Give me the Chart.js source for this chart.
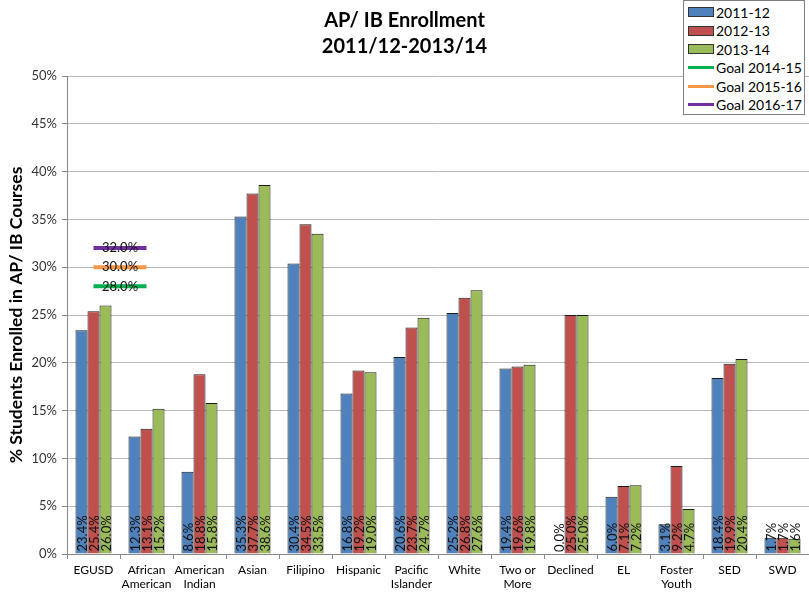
<!DOCTYPE html>
<html>
<head>
<meta charset="utf-8">
<script src="https://cdn.jsdelivr.net/npm/chart.js@4.4.1/dist/chart.umd.min.js"></script>
<style>
  html, body { margin: 0; padding: 0; background: #fff; }
  #wrap { position: relative; width: 809px; height: 592px; }
  #legend {
    position: absolute; left: 683px; top: 0px; width: 122px; height: 115px;
    border: 1px solid #7f7f7f; background: #fff; box-sizing: border-box;
    font-family: Lato, "Open Sans", sans-serif; font-size: 14px; color: #000;
    padding: 2px 0 0 4px;
  }
  .row { display: flex; align-items: center; height: 18.5px; }
  .sw { width: 24px; height: 8px; border: 1px solid #333; margin-right: 2px; }
  .ln { width: 26px; height: 3px; margin-right: 2px; }
</style>
</head>
<body>
<div id="wrap">
  <canvas id="chart" width="809" height="592"></canvas>
  <div id="legend"></div>
</div>
<script>
// categories
const groups = [
  "EGUSD", ["African", "American"], ["American", "Indian"], "Asian", "Filipino",
  "Hispanic", ["Pacific", "Islander"], "White", ["Two or", "More"], "Declined",
  "EL", ["Foster", "Youth"], "SED", "SWD"
];

// series values (%)
const y2011 = [23.4, 12.3, 8.6, 35.3, 30.4, 16.8, 20.6, 25.2, 19.4, 0.0, 6.0, 3.1, 18.4, 1.7];
const y2012 = [25.4, 13.1, 18.8, 37.7, 34.5, 19.2, 23.7, 26.8, 19.6, 25.0, 7.1, 9.2, 19.9, 1.7];
const y2013 = [26.0, 15.2, 15.8, 38.6, 33.5, 19.0, 24.7, 27.6, 19.8, 25.0, 7.2, 4.7, 20.4, 1.6];

const barNames = ["2011-12", "2012-13", "2013-14"];
const barColors = ["#4f81bd", "#c0504d", "#9bbb59"];

// goals (short markers spanning EGUSD -> African American in category units)
const goalNames = ["Goal 2014-15", "Goal 2015-16", "Goal 2016-17"];
const goalValues = [28.0, 30.0, 32.0];
const goalColors = ["#00b050", "#f79646", "#7030a0"];
const goalSpan = [0, 1];

const yTicks = [0, 5, 10, 15, 20, 25, 30, 35, 40, 45, 50];

const FONT = "Lato, 'Open Sans', sans-serif";

const barSeries = [y2011, y2012, y2013];
const datasets = barSeries.map((vals, i) => ({
  label: barNames[i],
  data: vals,
  backgroundColor: barColors[i],
  borderColor: "#1a1a1a",
  borderWidth: 1,
  categoryPercentage: 0.68,
  barPercentage: 1.0
}));

// goal markers, placed through the chart's scales
const goalLines = {
  id: "goalLines",
  afterDatasetsDraw(chart) {
    const { ctx, scales } = chart;
    const x0 = scales.x.getPixelForValue(goalSpan[0]);
    const x1 = scales.x.getPixelForValue(goalSpan[1]);
    ctx.save();
    ctx.lineWidth = 4;
    ctx.font = "13px " + FONT;
    ctx.fillStyle = "#111";
    ctx.textAlign = "center";
    ctx.textBaseline = "middle";
    goalValues.forEach((v, i) => {
      const y = scales.y.getPixelForValue(v);
      ctx.strokeStyle = goalColors[i];
      ctx.beginPath();
      ctx.moveTo(x0, y);
      ctx.lineTo(x1, y);
      ctx.stroke();
      ctx.fillText(v.toFixed(1) + "%", (x0 + x1) / 2, y);
    });
    ctx.restore();
  }
};

// value labels: vertical text inside bars from the base
const valueLabels = {
  id: "valueLabels",
  afterDatasetsDraw(chart) {
    const ctx = chart.ctx;
    ctx.save();
    ctx.font = "13px " + FONT;
    ctx.fillStyle = "#111";
    ctx.textAlign = "left";
    ctx.textBaseline = "middle";
    chart.data.datasets.forEach((ds, di) => {
      chart.getDatasetMeta(di).data.forEach((el, k) => {
        ctx.save();
        ctx.translate(el.x + 1, el.base - 2);
        ctx.rotate(-Math.PI / 2);
        ctx.fillText(ds.data[k].toFixed(1) + "%", 0, 0);
        ctx.restore();
      });
    });
    ctx.restore();
  }
};

new Chart(document.getElementById("chart"), {
  type: "bar",
  data: { labels: groups, datasets: datasets },
  plugins: [valueLabels, goalLines],
  options: {
    responsive: false,
    animation: false,
    events: [],
    layout: { padding: { left: 0, right: 0, top: 0, bottom: 0 } },
    plugins: {
      legend: { display: false },
      tooltip: { enabled: false },
      title: {
        display: true,
        text: ["AP/ IB Enrollment", "2011/12-2013/14"],
        color: "#000",
        font: { family: FONT, size: 20, weight: "bold", lineHeight: 1.3 },
        padding: { top: 8, bottom: 16 }
      }
    },
    scales: {
      x: {
        afterFit: (s) => { s.height = 38; },
        grid: { offset: true, drawOnChartArea: false, tickLength: 5, color: "#888" },
        border: { color: "#888" },
        ticks: { color: "#000", font: { family: FONT, size: 12 }, maxRotation: 0, autoSkip: false, padding: 4 }
      },
      y: {
        min: 0,
        max: 50,
        afterFit: (s) => { s.width = 67; },
        afterBuildTicks: (s) => { s.ticks = yTicks.map((v) => ({ value: v })); },
        grid: { color: "#b8b8b8", tickLength: 5, tickColor: "#888" },
        border: { color: "#888" },
        ticks: {
          color: "#333",
          font: { family: FONT, size: 13 },
          padding: 5,
          callback: (v) => v + "%"
        },
        title: {
          display: true,
          text: "% Students Enrolled in AP/ IB Courses",
          color: "#000",
          font: { family: FONT, size: 17.5, weight: "bold" },
          padding: { top: 6, bottom: 0 }
        }
      }
    }
  }
});

// legend box
const legend = document.getElementById("legend");
barNames.forEach((n, i) => {
  legend.insertAdjacentHTML("beforeend",
    '<div class="row"><span class="sw" style="background:' + barColors[i] + '"></span>' + n + '</div>');
});
goalNames.forEach((n, i) => {
  legend.insertAdjacentHTML("beforeend",
    '<div class="row"><span class="ln" style="background:' + goalColors[i] + '"></span>' + n + '</div>');
});
</script>
</body>
</html>
